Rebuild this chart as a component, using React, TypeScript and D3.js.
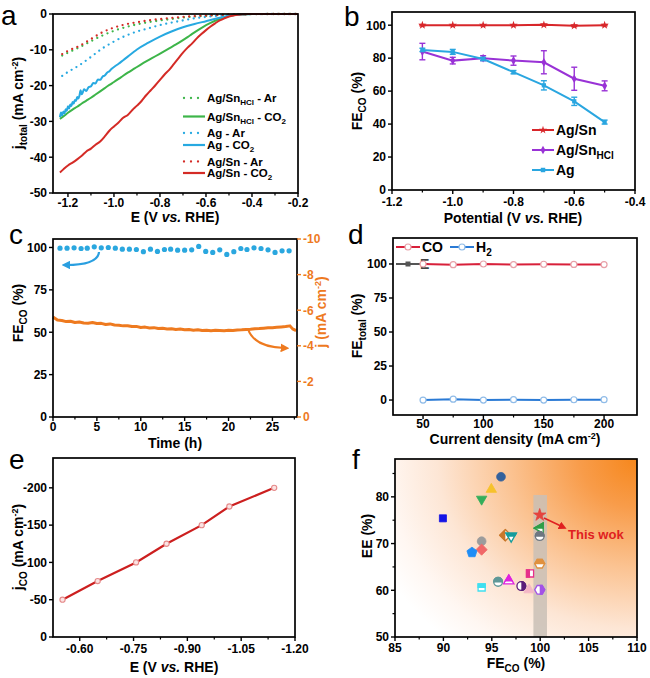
import React from 'react';
import * as d3 from 'd3';

const FONT = "'Liberation Sans', Arial, Helvetica, sans-serif";

// ===== Panel a: LSV curves [E (V vs RHE), j (mA cm-2)] =====
const A_SNHCL_AR: [number, number][] = [[-1.225,-11.6],[-1.2,-10.8],[-1.15,-9.3],[-1.1,-7.6],[-1.05,-6.0],[-1.0,-4.7],[-0.95,-3.7],[-0.9,-2.9],[-0.85,-2.3],[-0.8,-1.8],[-0.75,-1.4],[-0.7,-1.0],[-0.65,-0.7],[-0.6,-0.5],[-0.55,-0.3],[-0.5,-0.2],[-0.45,-0.1],[-0.4,-0.03],[-0.3,0],[-0.2,0]];
const A_SNHCL_CO2: [number, number][] = [[-1.235,-29.3],[-1.22,-28.6],[-1.2,-27.6],[-1.18,-26.7],[-1.16,-25.9],[-1.14,-25.0],[-1.12,-24.2],[-1.1,-23.4],[-1.08,-22.5],[-1.06,-21.6],[-1.04,-20.7],[-1.02,-19.8],[-1.0,-19.0],[-0.97,-17.7],[-0.94,-16.4],[-0.91,-15.2],[-0.88,-14.0],[-0.85,-12.9],[-0.82,-11.8],[-0.79,-10.7],[-0.76,-9.6],[-0.73,-8.5],[-0.7,-7.3],[-0.67,-6.0],[-0.64,-4.7],[-0.61,-3.5],[-0.58,-2.5],[-0.55,-1.6],[-0.52,-0.9],[-0.49,-0.4],[-0.46,-0.15],[-0.43,-0.04],[-0.4,0],[-0.2,0]];
const A_AG_AR: [number, number][] = [[-1.225,-17.3],[-1.2,-16.2],[-1.15,-14.3],[-1.1,-12.0],[-1.05,-9.6],[-1.0,-7.7],[-0.95,-6.1],[-0.9,-4.9],[-0.85,-4.0],[-0.8,-3.1],[-0.75,-2.4],[-0.7,-1.8],[-0.65,-1.2],[-0.6,-0.8],[-0.55,-0.5],[-0.5,-0.3],[-0.45,-0.12],[-0.4,-0.03],[-0.3,0],[-0.2,0]];
const A_AG_CO2: [number, number][] = [[-1.235,-28.8],[-1.23,-27.5],[-1.225,-28.3],[-1.22,-27.2],[-1.215,-27.8],[-1.21,-26.6],[-1.205,-27.0],[-1.2,-25.8],[-1.195,-26.4],[-1.19,-25.3],[-1.185,-25.7],[-1.18,-24.6],[-1.175,-25.0],[-1.17,-24.0],[-1.165,-24.3],[-1.16,-23.2],[-1.155,-23.6],[-1.15,-22.8],[-1.145,-21.3],[-1.14,-22.4],[-1.135,-21.8],[-1.13,-21.0],[-1.12,-21.5],[-1.11,-20.4],[-1.1,-20.2],[-1.09,-19.3],[-1.08,-19.4],[-1.07,-18.3],[-1.06,-18.4],[-1.05,-17.5],[-1.04,-17.2],[-1.03,-16.4],[-1.02,-16.0],[-1.01,-15.3],[-1.0,-14.8],[-0.98,-13.9],[-0.96,-12.9],[-0.94,-11.9],[-0.92,-10.9],[-0.9,-9.9],[-0.85,-8.0],[-0.8,-6.3],[-0.75,-4.9],[-0.7,-3.7],[-0.65,-2.8],[-0.6,-2.0],[-0.55,-1.2],[-0.5,-0.5],[-0.45,-0.15],[-0.4,-0.02],[-0.3,0],[-0.2,0]];
const A_SN_AR: [number, number][] = [[-1.225,-11.2],[-1.2,-10.3],[-1.15,-8.9],[-1.1,-7.0],[-1.05,-5.1],[-1.0,-3.8],[-0.95,-2.9],[-0.9,-2.3],[-0.85,-1.8],[-0.8,-1.4],[-0.75,-1.1],[-0.7,-0.8],[-0.65,-0.6],[-0.6,-0.45],[-0.55,-0.3],[-0.5,-0.2],[-0.45,-0.1],[-0.4,-0.03],[-0.3,0],[-0.2,0]];
const A_SN_CO2: [number, number][] = [[-1.235,-44.3],[-1.22,-43.4],[-1.2,-42.3],[-1.18,-41.5],[-1.16,-40.6],[-1.14,-39.6],[-1.12,-38.4],[-1.1,-37.6],[-1.08,-36.5],[-1.06,-35.6],[-1.04,-34.2],[-1.02,-32.6],[-1.0,-31.4],[-0.98,-30.3],[-0.96,-29.0],[-0.94,-28.2],[-0.92,-26.8],[-0.9,-25.6],[-0.88,-24.3],[-0.86,-22.7],[-0.84,-21.3],[-0.82,-19.9],[-0.8,-18.4],[-0.78,-16.9],[-0.76,-15.6],[-0.74,-14.0],[-0.72,-12.4],[-0.7,-10.8],[-0.68,-9.4],[-0.66,-8.2],[-0.64,-6.8],[-0.62,-5.6],[-0.6,-4.5],[-0.58,-3.5],[-0.56,-2.6],[-0.54,-1.8],[-0.52,-1.2],[-0.5,-0.7],[-0.48,-0.4],[-0.46,-0.2],[-0.44,-0.08],[-0.42,-0.03],[-0.4,0],[-0.2,0]];
const A_X_TICKS = [-1.2, -1.0, -0.8, -0.6, -0.4, -0.2];
const A_X_MINOR = [-1.1, -0.9, -0.7, -0.5, -0.3];
const A_Y_TICKS = [0, -10, -20, -30, -40, -50];

// ===== Panel b: FE_CO vs potential =====
const B_POT = [-1.1, -1.0, -0.9, -0.8, -0.7, -0.6, -0.5];
const B_AGSN = [100, 100, 100, 100, 100.2, 99.6, 100];
const B_AGSN_ERR = [0.4, 0.3, 0.3, 0.3, 0.4, 0.5, 0.4];
const B_AGSNHCL = [84, 78.5, 80, 78.5, 77.5, 67.5, 63.2];
const B_AGSNHCL_ERR = [5, 2, 1.5, 2.8, 7, 7, 3];
const B_AG = [85, 83.8, 79.5, 71.5, 63.5, 53.8, 41.2];
const B_AG_ERR = [1, 1.5, 1, 1, 2.8, 2.5, 1.2];
const B_X_TICKS = [-1.2, -1.0, -0.8, -0.6, -0.4];
const B_X_MINOR = [-1.1, -0.9, -0.7, -0.5];
const B_Y_TICKS = [0, 20, 40, 60, 80, 100];

// ===== Panel c: stability =====
const C_FE_T = [0.8,1.6,2.4,3.2,3.9,4.7,5.5,6.3,7.1,7.9,8.7,9.5,10.3,11.1,11.9,12.7,13.4,14.2,15.0,15.8,16.6,17.4,18.2,19.0,19.8,20.6,21.4,22.1,22.9,23.7,24.5,25.3,26.1,26.9];
const C_FE = [99.6,99.6,99.8,99.4,99.6,100.4,99.8,100,99.6,99,99,98.8,97.5,99,97.7,98.8,99,98.4,98.4,98.6,100.6,97.7,97.1,98.6,95.9,97.5,99.4,98.8,99.8,99.4,98.6,97.1,98,98];
const C_J: [number, number][] = [[0,-5.62],[0.5,-5.45],[1,-5.42],[1.5,-5.36],[2,-5.38],[2.5,-5.31],[3,-5.34],[3.5,-5.28],[4,-5.27],[4.5,-5.31],[5,-5.25],[5.5,-5.26],[6,-5.2],[6.5,-5.23],[7,-5.17],[7.5,-5.16],[8,-5.12],[8.5,-5.13],[9,-5.08],[9.5,-5.09],[10,-5.03],[10.5,-5.05],[11,-5.0],[11.5,-5.02],[12,-4.97],[12.5,-4.98],[13,-4.95],[13.5,-4.96],[14,-4.92],[14.5,-4.94],[15,-4.9],[15.5,-4.91],[16,-4.88],[16.5,-4.9],[17,-4.86],[17.5,-4.88],[18,-4.85],[18.5,-4.87],[19,-4.86],[19.5,-4.85],[20,-4.87],[20.5,-4.86],[21,-4.89],[21.5,-4.9],[22,-4.92],[22.5,-4.93],[23,-4.96],[23.5,-4.97],[24,-4.99],[24.5,-5.01],[25,-5.02],[25.5,-5.04],[26,-5.06],[26.5,-5.08],[27,-5.12],[27.3,-4.95],[27.7,-4.85]];
const C_X_TICKS = [0, 5, 10, 15, 20, 25];
const C_X_MINOR = [2.5, 7.5, 12.5, 17.5, 22.5, 27.5];
const C_YL_TICKS = [0, 25, 50, 75, 100];
const C_YR_TICKS = [0, -2, -4, -6, -8, -10];

// ===== Panel d: FE vs current density =====
const D_CURRENT = [50, 75, 100, 125, 150, 175, 200];
const D_CO = [100, 99.5, 100, 99.6, 99.8, 99.7, 99.6];
const D_H2 = [0, 0.6, 0, 0.3, 0, 0.2, 0.3];
const D_X_TICKS = [50, 100, 150, 200];
const D_X_MINOR = [75, 125, 175];
const D_Y_TICKS = [0, 25, 50, 75, 100];

// ===== Panel e: j_CO vs E =====
const E_E = [-0.552, -0.65, -0.757, -0.842, -0.94, -1.017, -1.142];
const E_J = [-50, -75, -100, -125, -150, -175, -200];
const E_X_TICKS = [-0.6, -0.75, -0.9, -1.05, -1.2];
const E_X_MINOR = [-0.675, -0.825, -0.975, -1.125];
const E_Y_TICKS = [0, -50, -100, -150, -200];

// ===== Panel f: EE vs FE_CO comparison =====
const F_FE = [95.95, 94.95, 93.95, 89.95, 99.95, 100, 99.95, 96.4, 97, 93.95, 93.95, 92.95, 99.95, 98.95, 95.65, 96.75, 98.05, 98.85, 99.95, 93.95];
const F_EE = [84.3, 81.6, 79.5, 75.4, 76.1, 73.3, 71.6, 71.8, 71.6, 70.5, 68.7, 68.1, 65.7, 63.6, 61.8, 62.0, 60.9, 60.1, 60.1, 60.6];
const F_SHAPE = ['circle','triUp','triDown','square','star','triLeft','circle','diamond','triDown','circle','diamond','pentagon','hexagon','square','circle','triUp','circle','triUp','hexagon','square'];
const F_COLOR = ['#33619c','#f6c22c','#34ae5b','#1414e6','#e5443e','#2f9e48','#6e7781','#c9782b','#169c9c','#9c9c9c','#f06868','#1f8df5','#e0913f','#e6308b','#5f9898','#df22df','#5a1d7a','#f3b6c6','#a352e6','#3fdff0'];
const F_FILL = ['full','full','full','full','full','top','top','left','top','full','full','full','top','left','top','top','right','full','right','top'];
const F_X_TICKS = [85, 90, 95, 100, 105, 110];
const F_X_MINOR = [87.5, 92.5, 97.5, 102.5, 107.5];
const F_Y_TICKS = [50, 60, 70, 80];
const F_Y_MINOR = [55, 65, 75, 85];

type S = d3.ScaleLinear<number, number>;

function Frame({ x0, x1, y0, y1 }: { x0: number; x1: number; y0: number; y1: number }) {
  return <rect x={x0} y={y0} width={x1 - x0} height={y1 - y0} fill="none" stroke="#000" strokeWidth={1.7} />;
}

function BottomAxis({ s, y, ticks, minor = [], fmt, dy = 15 }: { s: S; y: number; ticks: number[]; minor?: number[]; fmt: (v: number) => string; dy?: number }) {
  return (
    <g>
      {ticks.map((v) => <line key={'M' + v} x1={s(v)} x2={s(v)} y1={y} y2={y + 4} stroke="#000" strokeWidth={1.4} />)}
      {minor.map((v) => <line key={'m' + v} x1={s(v)} x2={s(v)} y1={y} y2={y + 2.5} stroke="#000" strokeWidth={1.2} />)}
      {ticks.map((v) => <text key={'t' + v} x={s(v)} y={y + dy} textAnchor="middle" fontSize={12} fontWeight="bold">{fmt(v)}</text>)}
    </g>
  );
}

function LeftAxis({ s, x, ticks, minor = [], fmt }: { s: S; x: number; ticks: number[]; minor?: number[]; fmt: (v: number) => string }) {
  return (
    <g>
      {ticks.map((v) => <line key={'M' + v} x1={x - 4} x2={x} y1={s(v)} y2={s(v)} stroke="#000" strokeWidth={1.4} />)}
      {minor.map((v) => <line key={'m' + v} x1={x - 2.5} x2={x} y1={s(v)} y2={s(v)} stroke="#000" strokeWidth={1.2} />)}
      {ticks.map((v) => <text key={'t' + v} x={x - 6} y={s(v)} dy="0.36em" textAnchor="end" fontSize={12} fontWeight="bold">{fmt(v)}</text>)}
    </g>
  );
}

function regPoly(n: number, r: number, rotDeg: number): string {
  const pts: string[] = [];
  for (let k = 0; k < n; k++) {
    const a = ((-90 + rotDeg + (360 / n) * k) * Math.PI) / 180;
    pts.push(`${(r * Math.cos(a)).toFixed(2)},${(r * Math.sin(a)).toFixed(2)}`);
  }
  return 'M' + pts.join('L') + 'Z';
}

function shapeD(shape: string): string {
  switch (shape) {
    case 'circle': return d3.symbol(d3.symbolCircle, 60)() as string;
    case 'square': return regPoly(4, 5.0, 45);
    case 'triUp': return regPoly(3, 6.0, 0);
    case 'triDown': return regPoly(3, 6.0, 180);
    case 'triLeft': return regPoly(3, 6.0, -90);
    case 'diamond': return regPoly(4, 5.6, 0);
    case 'pentagon': return regPoly(5, 5.3, 0);
    case 'hexagon': return regPoly(6, 5.0, 30);
    case 'star': return d3.symbol(d3.symbolStar, 48)() as string;
    default: return regPoly(4, 5, 45);
  }
}

function FMarker({ x, y, shape, color, fill, id }: { x: number; y: number; shape: string; color: string; fill: string; id: string }) {
  const d = shapeD(shape);
  if (fill === 'full') {
    return <path transform={`translate(${x},${y})`} d={d} fill={color} stroke={color} strokeWidth={0.8} />;
  }
  let rect = { x: -8, y: -8, w: 16, h: 8 };
  if (fill === 'top') rect = { x: -8, y: -8, w: 16, h: 8.6 };
  if (fill === 'left') rect = { x: -8, y: -8, w: 8, h: 16 };
  if (fill === 'right') rect = { x: 0, y: -8, w: 8, h: 16 };
  return (
    <g transform={`translate(${x},${y})`}>
      <clipPath id={id}><rect x={rect.x} y={rect.y} width={rect.w} height={rect.h} /></clipPath>
      <path d={d} fill="#fff" stroke={color} strokeWidth={1.3} />
      <path d={d} fill={color} stroke={color} strokeWidth={1.3} clipPath={`url(#${id})`} />
    </g>
  );
}

const fmt1 = (v: number) => (v === 0 ? '0' : v.toFixed(1));
const fmtInt = (v: number) => String(v);
const fmt2 = (v: number) => v.toFixed(2);

function PanelA() {
  const sx = d3.scaleLinear().domain([-1.265, -0.2]).range([53, 298]);
  const sy = d3.scaleLinear().domain([-50, 0]).range([193, 14]);
  const line = d3.line<[number, number]>().x((d) => sx(d[0])).y((d) => sy(d[1])).curve(d3.curveMonotoneX);
  const RED = '#d42b26', GREEN = '#3db549', BLUE = '#27a9e1';
  const dotted = { strokeDasharray: '0 5.6', strokeLinecap: 'round' as const, strokeWidth: 2.3, fill: 'none' };
  const legend = [
    { y: 98, color: GREEN, dot: true, label: <>Ag/Sn<tspan dy={3} fontSize={8}>HCl</tspan><tspan dy={-3}> - Ar</tspan></> },
    { y: 116.5, color: GREEN, dot: false, label: <>Ag/Sn<tspan dy={3} fontSize={8}>HCl</tspan><tspan dy={-3}> - CO</tspan><tspan dy={3} fontSize={8}>2</tspan></> },
    { y: 133, color: BLUE, dot: true, label: <>Ag - Ar</> },
    { y: 145, color: BLUE, dot: false, label: <>Ag - CO<tspan dy={3} fontSize={8}>2</tspan></> },
    { y: 161.5, color: RED, dot: true, label: <>Ag/Sn - Ar</> },
    { y: 173, color: RED, dot: false, label: <>Ag/Sn - CO<tspan dy={3} fontSize={8}>2</tspan></> },
  ];
  return (
    <g>
      <path d={line(A_SNHCL_AR) as string} stroke={GREEN} {...dotted} />
      <path d={line(A_AG_AR) as string} stroke={BLUE} {...dotted} />
      <path d={line(A_SN_AR) as string} stroke={RED} {...dotted} />
      <path d={line(A_SNHCL_CO2) as string} stroke={GREEN} strokeWidth={2} fill="none" />
      <path d={line(A_AG_CO2) as string} stroke={BLUE} strokeWidth={2} fill="none" />
      <path d={line(A_SN_CO2) as string} stroke={RED} strokeWidth={2} fill="none" />
      {legend.map((l, i) => (
        <g key={i}>
          {l.dot ? (
            <line x1={184} x2={202} y1={l.y} y2={l.y} stroke={l.color} {...dotted} strokeDasharray="0 7" />
          ) : (
            <line x1={183} x2={205} y1={l.y} y2={l.y} stroke={l.color} strokeWidth={2.2} />
          )}
          <text x={207} y={l.y} dy="0.36em" fontSize={11.5} fontWeight="bold">{l.label}</text>
        </g>
      ))}
      <Frame x0={53} x1={298} y0={14} y1={193} />
      <BottomAxis s={sx} y={193} ticks={A_X_TICKS} minor={A_X_MINOR} fmt={fmt1} dy={14} />
      <LeftAxis s={sy} x={53} ticks={A_Y_TICKS} fmt={fmtInt} />
      <text x={175} y={222} textAnchor="middle" fontSize={14} fontWeight="bold">E (V <tspan fontStyle="italic">vs.</tspan> RHE)</text>
      <text transform="translate(23,103) rotate(-90)" textAnchor="middle" fontSize={14} fontWeight="bold">j<tspan dy={4} fontSize={10}>total</tspan><tspan dy={-4}> (mA cm</tspan><tspan dy={-5} fontSize={9}>-2</tspan><tspan dy={5}>)</tspan></text>
      <text x={1} y={25} fontSize={28}>a</text>
    </g>
  );
}

function ErrBar({ x, y0, y1, color }: { x: number; y0: number; y1: number; color: string }) {
  return (
    <g stroke={color} strokeWidth={1.4}>
      <line x1={x} x2={x} y1={y0} y2={y1} />
      <line x1={x - 3} x2={x + 3} y1={y0} y2={y0} />
      <line x1={x - 3} x2={x + 3} y1={y1} y2={y1} />
    </g>
  );
}

function PanelB() {
  const sx = d3.scaleLinear().domain([-1.2, -0.4]).range([392, 635]);
  const sy = d3.scaleLinear().domain([0, 108]).range([190, 12]);
  const RED = '#d8262a', PURPLE = '#9932d6', BLUE = '#2aa6e0';
  const series = [
    { vals: B_AGSNHCL, err: B_AGSNHCL_ERR, color: PURPLE, sym: d3.symbolDiamond, size: 22 },
    { vals: B_AG, err: B_AG_ERR, color: BLUE, sym: d3.symbolSquare, size: 18 },
    { vals: B_AGSN, err: B_AGSN_ERR, color: RED, sym: d3.symbolStar, size: 22 },
  ];
  return (
    <g>
      {series.map((s, si) => {
        const pts: [number, number][] = B_POT.map((p, i) => [sx(p), sy(s.vals[i])]);
        const sd = d3.symbol(s.sym, s.size)() as string;
        return (
          <g key={si}>
            <path d={d3.line()(pts) as string} stroke={s.color} strokeWidth={2} fill="none" />
            {B_POT.map((p, i) => <ErrBar key={'e' + i} x={sx(p)} y0={sy(s.vals[i] + s.err[i])} y1={sy(s.vals[i] - s.err[i])} color={s.color} />)}
            {pts.map((p, i) => <path key={'p' + i} transform={`translate(${p[0]},${p[1]})`} d={sd} fill={s.color} />)}
          </g>
        );
      })}
      {[
        { y: 130, color: RED, sym: d3.symbolStar, label: <>Ag/Sn</> },
        { y: 150, color: PURPLE, sym: d3.symbolDiamond, label: <>Ag/Sn<tspan dy={4} fontSize={10}>HCl</tspan></> },
        { y: 170, color: BLUE, sym: d3.symbolSquare, label: <>Ag</> },
      ].map((l, i) => (
        <g key={i}>
          <line x1={532} x2={554} y1={l.y} y2={l.y} stroke={l.color} strokeWidth={2} />
          <path transform={`translate(543,${l.y})`} d={d3.symbol(l.sym, 20)() as string} fill={l.color} />
          <text x={556} y={l.y} dy="0.36em" fontSize={14} fontWeight="bold">{l.label}</text>
        </g>
      ))}
      <Frame x0={392} x1={635} y0={12} y1={190} />
      <BottomAxis s={sx} y={190} ticks={B_X_TICKS} minor={B_X_MINOR} fmt={fmt1} dy={16} />
      <LeftAxis s={sy} x={392} ticks={B_Y_TICKS} fmt={fmtInt} />
      <text x={513} y={223} textAnchor="middle" fontSize={14} fontWeight="bold">Potential (V <tspan fontStyle="italic">vs.</tspan> RHE)</text>
      <text transform="translate(362,101) rotate(-90)" textAnchor="middle" fontSize={14} fontWeight="bold">FE<tspan dy={4} fontSize={10}>CO</tspan><tspan dy={-4}> (%)</tspan></text>
      <text x={344} y={26} fontSize={28}>b</text>
    </g>
  );
}

function PanelC() {
  const sx = d3.scaleLinear().domain([0, 27.8]).range([53, 297]);
  const syL = d3.scaleLinear().domain([0, 105]).range([417, 239]);
  const syR = d3.scaleLinear().domain([0, -10]).range([417, 239]);
  const ORANGE = '#ee7a1f', CYAN = '#2aa7df';
  const jLine = d3.line<[number, number]>().x((d) => sx(d[0])).y((d) => syR(d[1]));
  return (
    <g>
      <path d={jLine(C_J) as string} stroke={ORANGE} strokeWidth={3} fill="none" strokeLinejoin="round" />
      {C_FE_T.map((t, i) => <circle key={i} cx={sx(t)} cy={syL(C_FE[i])} r={2.6} fill={CYAN} />)}
      <path d="M99,252 Q98,265 66,265" stroke="#2a9fe0" strokeWidth={2.2} fill="none" markerEnd="url(#arrB)" />
      <path d="M248,329 Q254,347 285,348" stroke={ORANGE} strokeWidth={2.2} fill="none" markerEnd="url(#arrO)" />
      <Frame x0={53} x1={297} y0={239} y1={417} />
      <BottomAxis s={sx} y={417} ticks={C_X_TICKS} minor={C_X_MINOR} fmt={fmtInt} dy={14} />
      <LeftAxis s={syL} x={53} ticks={C_YL_TICKS} fmt={fmtInt} />
      {C_YR_TICKS.map((v) => (
        <g key={v}>
          <line x1={297} x2={301} y1={syR(v)} y2={syR(v)} stroke={ORANGE} strokeWidth={1.4} />
          <text x={303} y={syR(v)} dy="0.36em" fontSize={12} fontWeight="bold" fill={ORANGE}>{String(v)}</text>
        </g>
      ))}
      <text x={175} y={448} textAnchor="middle" fontSize={14} fontWeight="bold">Time (h)</text>
      <text transform="translate(23,313) rotate(-90)" textAnchor="middle" fontSize={14} fontWeight="bold">FE<tspan dy={4} fontSize={10}>CO</tspan><tspan dy={-4}> (%)</tspan></text>
      <text transform="translate(326,312) rotate(-90)" textAnchor="middle" fontSize={14} fontWeight="bold" fill={ORANGE}>j (mA cm<tspan dy={-5} fontSize={9}>-2</tspan><tspan dy={5}>)</tspan></text>
      <text x={9} y={244} fontSize={28}>c</text>
    </g>
  );
}

function PanelD() {
  const sx = d3.scaleLinear().domain([25.1, 227.3]).range([393, 637]);
  const sy = d3.scaleLinear().domain([-11, 119.1]).range([415, 238]);
  const RED = '#d8203a', BLUE = '#2a7ad5';
  const mk = (vals: number[]) => D_CURRENT.map((c, i) => [sx(c), sy(vals[i])] as [number, number]);
  const co = mk(D_CO), h2 = mk(D_H2);
  return (
    <g>
      <line x1={396} x2={420} y1={264} y2={264} stroke="#555" strokeWidth={2} />
      <rect x={405.5} y={261.5} width={5} height={5} fill="#555" />
      <text x={420} y={264} dy="0.36em" fontSize={14} fontWeight="bold" fill="#444">E</text>
      <path d={d3.line()(co) as string} stroke={RED} strokeWidth={2} fill="none" />
      <path d={d3.line()(h2) as string} stroke={BLUE} strokeWidth={2} fill="none" />
      {co.map((p, i) => <circle key={'c' + i} cx={p[0]} cy={p[1]} r={3} fill="#fff" stroke="#e8a0a8" strokeWidth={1.2} />)}
      {h2.map((p, i) => <circle key={'h' + i} cx={p[0]} cy={p[1]} r={3} fill="#fff" stroke="#90bce8" strokeWidth={1.2} />)}
      <line x1={396} x2={420} y1={247} y2={247} stroke={RED} strokeWidth={2} />
      <circle cx={408} cy={247} r={3} fill="#fff" stroke="#e8a0a8" strokeWidth={1.2} />
      <text x={422} y={247} dy="0.36em" fontSize={14} fontWeight="bold">CO</text>
      <line x1={450} x2={474} y1={247} y2={247} stroke={BLUE} strokeWidth={2} />
      <circle cx={462} cy={247} r={3} fill="#fff" stroke="#90bce8" strokeWidth={1.2} />
      <text x={476} y={247} dy="0.36em" fontSize={14} fontWeight="bold">H<tspan dy={4} fontSize={10}>2</tspan></text>
      <Frame x0={393} x1={637} y0={238} y1={415} />
      <BottomAxis s={sx} y={415} ticks={D_X_TICKS} minor={D_X_MINOR} fmt={fmtInt} dy={13} />
      <LeftAxis s={sy} x={393} ticks={D_Y_TICKS} fmt={fmtInt} />
      <text x={515} y={444} textAnchor="middle" fontSize={14} fontWeight="bold">Current density (mA cm<tspan dy={-5} fontSize={9}>-2</tspan><tspan dy={5}>)</tspan></text>
      <text transform="translate(362,326) rotate(-90)" textAnchor="middle" fontSize={14} fontWeight="bold">FE<tspan dy={4} fontSize={10}>total</tspan><tspan dy={-4}> (%)</tspan></text>
      <text x={348} y={244} fontSize={28}>d</text>
    </g>
  );
}

function PanelE() {
  const sx = d3.scaleLinear().domain([-0.5255, -1.2]).range([53, 295]);
  const sy = d3.scaleLinear().domain([0, -240]).range([637, 458]);
  const pts = E_E.map((e, i) => [sx(e), sy(E_J[i])] as [number, number]);
  return (
    <g>
      <path d={d3.line()(pts) as string} stroke="#cc1f1f" strokeWidth={2.2} fill="none" />
      {pts.map((p, i) => <circle key={i} cx={p[0]} cy={p[1]} r={2.6} fill="#fbe3e3" stroke="#e58a8a" strokeWidth={1.1} />)}
      <Frame x0={53} x1={295} y0={458} y1={637} />
      <BottomAxis s={sx} y={637} ticks={E_X_TICKS} minor={E_X_MINOR} fmt={fmt2} dy={16} />
      <LeftAxis s={sy} x={53} ticks={E_Y_TICKS} fmt={fmtInt} />
      <text x={174} y={672} textAnchor="middle" fontSize={14} fontWeight="bold">E (V <tspan fontStyle="italic">vs.</tspan> RHE)</text>
      <text transform="translate(23,547) rotate(-90)" textAnchor="middle" fontSize={14} fontWeight="bold">j<tspan dy={4} fontSize={10}>CO</tspan><tspan dy={-4}> (mA cm</tspan><tspan dy={-5} fontSize={9}>-2</tspan><tspan dy={5}>)</tspan></text>
      <text x={9} y={469} fontSize={28}>e</text>
    </g>
  );
}

function PanelF() {
  const sx = d3.scaleLinear().domain([85, 110]).range([395, 637]);
  const sy = d3.scaleLinear().domain([50, 88.1]).range([637, 459]);
  return (
    <g>
      <rect x={395} y={459} width={242} height={178} fill="url(#fgrad)" />
      <rect x={sx(99.3)} y={sy(80.4)} width={sx(100.7) - sx(99.3)} height={sy(50) - sy(80.4)} fill="#c9c0b6" opacity={0.85} />
      {F_FE.map((fe, i) => (
        <FMarker key={i} id={'fm' + i} x={sx(fe)} y={sy(F_EE[i])} shape={F_SHAPE[i]} color={F_COLOR[i]} fill={F_FILL[i]} />
      ))}
      <line x1={544} y1={518} x2={563} y2={527} stroke="#e02020" strokeWidth={1.6} markerEnd="url(#arrR)" />
      <text x={568} y={539} fontSize={13} fontWeight="bold" fill="#e02020">This wok</text>
      <Frame x0={395} x1={637} y0={459} y1={637} />
      <BottomAxis s={sx} y={637} ticks={F_X_TICKS} minor={F_X_MINOR} fmt={fmtInt} dy={15} />
      <LeftAxis s={sy} x={395} ticks={F_Y_TICKS} minor={F_Y_MINOR} fmt={fmtInt} />
      <text x={516} y={668} textAnchor="middle" fontSize={14} fontWeight="bold">FE<tspan dy={4} fontSize={10}>CO</tspan><tspan dy={-4}> (%)</tspan></text>
      <text transform="translate(372,536) rotate(-90)" textAnchor="middle" fontSize={14} fontWeight="bold">EE (%)</text>
      <text x={352} y={469} fontSize={28}>f</text>
    </g>
  );
}

export default function App() {
  return (
    <svg width={650} height={678} viewBox="0 0 650 678" style={{ position: 'absolute', left: 0, top: 0, background: '#fff' }} fontFamily={FONT}>
      <defs>
        <radialGradient id="fgrad" gradientUnits="userSpaceOnUse" cx={637} cy={459} r={285} gradientTransform="translate(637 459) scale(1 0.85) translate(-637 -459)">
          <stop offset="0" stopColor="#f6871c" />
          <stop offset="0.2" stopColor="#f89c4a" />
          <stop offset="0.45" stopColor="#fbc392" />
          <stop offset="0.7" stopColor="#fde6d5" />
          <stop offset="0.88" stopColor="#fff7f2" />
          <stop offset="1" stopColor="#ffffff" />
        </radialGradient>
        <marker id="arrB" viewBox="0 0 10 10" refX="5" refY="5" markerWidth="4" markerHeight="4" orient="auto">
          <path d="M0,0 L10,5 L0,10 z" fill="#2a9fe0" />
        </marker>
        <marker id="arrO" viewBox="0 0 10 10" refX="5" refY="5" markerWidth="4" markerHeight="4" orient="auto">
          <path d="M0,0 L10,5 L0,10 z" fill="#ee7a1f" />
        </marker>
        <marker id="arrR" viewBox="0 0 10 10" refX="5" refY="5" markerWidth="5" markerHeight="5" orient="auto">
          <path d="M0,0 L10,5 L0,10 z" fill="#e02020" />
        </marker>
      </defs>
      <rect x={0} y={0} width={650} height={678} fill="#fff" />
      <PanelA />
      <PanelB />
      <PanelC />
      <PanelD />
      <PanelE />
      <PanelF />
    </svg>
  );
}
